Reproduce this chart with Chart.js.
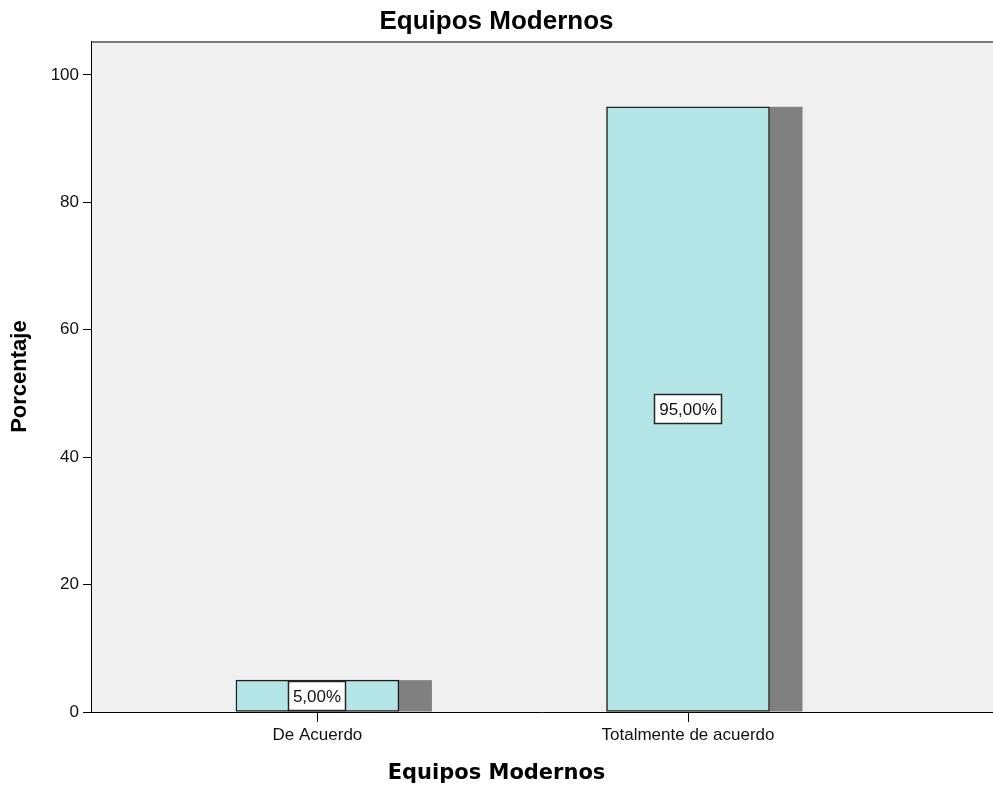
<!DOCTYPE html>
<html>
<head>
<meta charset="utf-8">
<title>Equipos Modernos</title>
<script src="https://cdn.jsdelivr.net/npm/chart.js@4.4.1/dist/chart.umd.min.js"></script>
<style>
  html, body { margin: 0; padding: 0; background: #ffffff; }
  #wrap { width: 993px; height: 789px; }
</style>
</head>
<body>
<div id="wrap"><canvas id="chart" width="993" height="789"></canvas></div>
<script>
// Chart texts
const chartTitle = 'Equipos Modernos';
const xAxisTitle = 'Equipos Modernos';
const yAxisTitle = 'Porcentaje';

// Categories and their percentages
const categories = ['De Acuerdo', 'Totalmente de acuerdo'];
const percentages = [5, 95];

// Y axis tick values
const yTicks = [0, 20, 40, 60, 80, 100];

// Spanish-style percentage text, e.g. 95 -> "95,00%"
const formatPercent = v => v.toFixed(2).replace('.', ',') + '%';

const BAR_FILL = '#b4e6e7';
const BAR_EDGE = '#1f1f1f';
const DEPTH_FILL = '#808080';
const DEPTH_PX = 33;

// Grey plot panel plus the frame line along its top
const plotPanel = {
  id: 'plotPanel',
  beforeDraw(chart) {
    const { ctx, chartArea: a } = chart;
    ctx.save();
    ctx.fillStyle = '#f0f0f0';
    ctx.fillRect(a.left, a.top, a.right - a.left, a.bottom - a.top);
    ctx.strokeStyle = '#555555';
    ctx.lineWidth = 1.5;
    ctx.beginPath();
    ctx.moveTo(a.left, a.top + 0.75);
    ctx.lineTo(a.right, a.top + 0.75);
    ctx.stroke();
    ctx.restore();
  }
};

// Dark side face to the right of every bar
const barDepth = {
  id: 'barDepth',
  beforeDatasetsDraw(chart) {
    const { ctx } = chart;
    const meta = chart.getDatasetMeta(0);
    ctx.save();
    ctx.fillStyle = DEPTH_FILL;
    meta.data.forEach(bar => {
      const right = bar.x + bar.width / 2;
      ctx.fillRect(right, bar.y, DEPTH_PX, bar.base - bar.y);
    });
    ctx.restore();
  }
};

// Boxed value label in the middle of every bar
const valueBoxes = {
  id: 'valueBoxes',
  afterDatasetsDraw(chart) {
    const { ctx } = chart;
    const meta = chart.getDatasetMeta(0);
    const ds = chart.data.datasets[0];
    ctx.save();
    ctx.font = '17px "Liberation Sans", Arial, sans-serif';
    ctx.textAlign = 'center';
    ctx.textBaseline = 'middle';
    meta.data.forEach((bar, i) => {
      const text = formatPercent(ds.data[i].y);
      const w = Math.round(ctx.measureText(text).width) + 9;
      const h = 29;
      const cx = Math.round(bar.x);
      const cy = Math.round((bar.y + bar.base) / 2);
      const x0 = cx - Math.round(w / 2) + 0.5;
      const y0 = cy - Math.round(h / 2) + 0.5;
      ctx.fillStyle = '#ffffff';
      ctx.fillRect(x0, y0, w, h);
      ctx.strokeStyle = '#262626';
      ctx.lineWidth = 1.5;
      ctx.strokeRect(x0, y0, w, h);
      ctx.fillStyle = '#111111';
      ctx.fillText(text, cx, cy + 1);
    });
    ctx.restore();
  }
};

new Chart(document.getElementById('chart'), {
  type: 'bar',
  data: {
    datasets: [{
      label: yAxisTitle,
      data: percentages.map((v, i) => ({ x: i, y: v })),
      backgroundColor: BAR_FILL,
      borderColor: BAR_EDGE,
      borderWidth: 1.5,
      borderSkipped: false,
      barThickness: 163,
      grouped: false
    }]
  },
  options: {
    responsive: false,
    animation: false,
    devicePixelRatio: 1,
    layout: { padding: { left: 0, right: 0, top: 0, bottom: 0 } },
    plugins: {
      legend: { display: false },
      tooltip: { enabled: false },
      title: {
        display: true,
        text: chartTitle,
        color: '#000000',
        font: { family: '"Liberation Sans", Arial, sans-serif', size: 26, weight: 'bold' },
        padding: { top: 6, bottom: 4 }
      },
      // Category axis caption, centred across the whole figure
      subtitle: {
        display: true,
        position: 'bottom',
        text: xAxisTitle,
        color: '#000000',
        font: { family: '"DejaVu Sans", Verdana, sans-serif', size: 21, weight: 'bold' },
        padding: { top: 0, bottom: 3 }
      }
    },
    scales: {
      x: {
        type: 'linear',
        offset: false,
        min: -0.611,
        max: 1.823,
        afterBuildTicks(scale) {
          scale.ticks = categories.map((_, i) => ({ value: i }));
        },
        afterFit(scale) { scale.height = 48.8; },
        ticks: {
          autoSkip: false,
          maxRotation: 0,
          padding: 3,
          color: '#111111',
          font: { family: '"Liberation Sans", Arial, sans-serif', size: 17 },
          callback: v => categories[v] ?? ''
        },
        grid: { offset: false, drawOnChartArea: false, drawTicks: true, tickLength: 10, color: '#000000', lineWidth: 1 },
        border: { display: true, color: '#000000', width: 1 }
      },
      y: {
        type: 'linear',
        min: 0,
        max: 105.3,
        afterBuildTicks(scale) {
          scale.ticks = yTicks.map(v => ({ value: v }));
        },
        afterFit(scale) { scale.width = 91; },
        ticks: {
          padding: 4,
          color: '#111111',
          font: { family: '"Liberation Sans", Arial, sans-serif', size: 17 }
        },
        grid: { drawOnChartArea: false, drawTicks: true, tickLength: 8, color: '#000000', lineWidth: 1 },
        border: { display: true, color: '#000000', width: 1 },
        title: {
          display: true,
          text: yAxisTitle,
          color: '#000000',
          font: { family: '"Liberation Sans", Arial, sans-serif', size: 22, weight: 'bold' },
          padding: { top: 7, bottom: 0 }
        }
      }
    }
  },
  plugins: [plotPanel, barDepth, valueBoxes]
});
</script>
</body>
</html>
